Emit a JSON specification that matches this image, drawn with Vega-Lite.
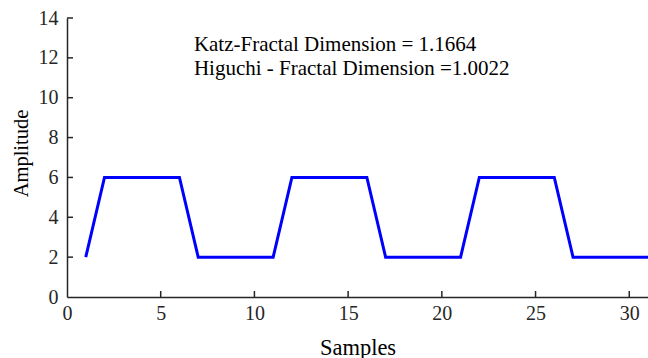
{
  "$schema": "https://vega.github.io/schema/vega-lite/v6.json",
  "width": 581,
  "height": 279,
  "autosize": {"type": "none"},
  "padding": {"left": 67, "top": 18, "right": 0, "bottom": 61},
  "background": "white",
  "config": {
    "view": {"stroke": null},
    "font": "Liberation Serif",
    "axis": {
      "domainColor": "#262626",
      "domainWidth": 1.5,
      "ticks": false,
      "labelColor": "#262626",
      "labelFont": "Liberation Serif",
      "labelFontSize": 20,
      "titleFont": "Liberation Serif",
      "titleFontWeight": "normal",
      "titleColor": "#000000",
      "titleBaseline": "alphabetic",
      "grid": false
    }
  },
  "layer": [
    {
      "data": {
        "values": [
          {"x": 1, "y": 2}, {"x": 2, "y": 6}, {"x": 3, "y": 6}, {"x": 4, "y": 6}, {"x": 5, "y": 6}, {"x": 6, "y": 6},
          {"x": 7, "y": 2}, {"x": 8, "y": 2}, {"x": 9, "y": 2}, {"x": 10, "y": 2}, {"x": 11, "y": 2},
          {"x": 12, "y": 6}, {"x": 13, "y": 6}, {"x": 14, "y": 6}, {"x": 15, "y": 6}, {"x": 16, "y": 6},
          {"x": 17, "y": 2}, {"x": 18, "y": 2}, {"x": 19, "y": 2}, {"x": 20, "y": 2}, {"x": 21, "y": 2},
          {"x": 22, "y": 6}, {"x": 23, "y": 6}, {"x": 24, "y": 6}, {"x": 25, "y": 6}, {"x": 26, "y": 6},
          {"x": 27, "y": 2}, {"x": 28, "y": 2}, {"x": 29, "y": 2}, {"x": 30, "y": 2}, {"x": 31, "y": 2}
        ]
      },
      "mark": {"type": "line", "color": "#0000FF", "strokeWidth": 3, "clip": true},
      "encoding": {
        "x": {
          "field": "x", "type": "quantitative",
          "scale": {"domain": [0, 31], "nice": false, "zero": false},
          "axis": {"title": "Samples", "titleFontSize": 22.5, "labelFont": "Liberation Serif", "values": [0, 5, 10, 15, 20, 25, 30], "labelOverlap": false, "labelFlush": false, "labelPadding": 6, "titleY": 57}
        },
        "y": {
          "field": "y", "type": "quantitative",
          "scale": {"domain": [0, 14], "nice": false},
          "axis": {"title": "Amplitude", "titleFontSize": 20.5, "labelFont": "Liberation Serif", "values": [0, 2, 4, 6, 8, 10, 12, 14], "labelOverlap": false, "labelFlush": false, "labelPadding": 9, "titleX": -40, "titleY": 135}
        }
      }
    },
    {
      "data": {
        "values": [
          {"tx": 5, "ty": 0, "ty2": 0.3}, {"tx": 10, "ty": 0, "ty2": 0.3}, {"tx": 15, "ty": 0, "ty2": 0.3},
          {"tx": 20, "ty": 0, "ty2": 0.3}, {"tx": 25, "ty": 0, "ty2": 0.3}, {"tx": 30, "ty": 0, "ty2": 0.3}
        ]
      },
      "mark": {"type": "rule", "color": "#262626", "strokeWidth": 1.5},
      "encoding": {
        "x": {
          "field": "tx", "type": "quantitative",
          "scale": {"domain": [0, 31], "nice": false, "zero": false},
          "axis": {"title": "Samples", "titleFontSize": 22.5, "labelFont": "Liberation Serif", "values": [0, 5, 10, 15, 20, 25, 30], "labelOverlap": false, "labelFlush": false, "labelPadding": 6, "titleY": 57}
        },
        "y": {
          "field": "ty", "type": "quantitative",
          "scale": {"domain": [0, 14], "nice": false},
          "axis": {"title": "Amplitude", "titleFontSize": 20.5, "labelFont": "Liberation Serif", "values": [0, 2, 4, 6, 8, 10, 12, 14], "labelOverlap": false, "labelFlush": false, "labelPadding": 9, "titleX": -40, "titleY": 135}
        },
        "y2": {"field": "ty2"}
      }
    },
    {
      "data": {
        "values": [
          {"tx": 0, "tx2": 0.32, "ty": 2}, {"tx": 0, "tx2": 0.32, "ty": 4}, {"tx": 0, "tx2": 0.32, "ty": 6},
          {"tx": 0, "tx2": 0.32, "ty": 8}, {"tx": 0, "tx2": 0.32, "ty": 10}, {"tx": 0, "tx2": 0.32, "ty": 12},
          {"tx": 0, "tx2": 0.32, "ty": 14}
        ]
      },
      "mark": {"type": "rule", "color": "#262626", "strokeWidth": 1.5},
      "encoding": {
        "x": {
          "field": "tx", "type": "quantitative",
          "scale": {"domain": [0, 31], "nice": false, "zero": false},
          "axis": {"title": "Samples", "titleFontSize": 22.5, "labelFont": "Liberation Serif", "values": [0, 5, 10, 15, 20, 25, 30], "labelOverlap": false, "labelFlush": false, "labelPadding": 6, "titleY": 57}
        },
        "x2": {"field": "tx2"},
        "y": {
          "field": "ty", "type": "quantitative",
          "scale": {"domain": [0, 14], "nice": false},
          "axis": {"title": "Amplitude", "titleFontSize": 20.5, "labelFont": "Liberation Serif", "values": [0, 2, 4, 6, 8, 10, 12, 14], "labelOverlap": false, "labelFlush": false, "labelPadding": 9, "titleX": -40, "titleY": 135}
        }
      }
    },
    {
      "data": {
        "values": [
          {"tx": 6.77, "ty": 12.33, "label": "Katz-Fractal Dimension = 1.1664"},
          {"tx": 6.77, "ty": 11.16, "label": "Higuchi - Fractal Dimension =1.0022"}
        ]
      },
      "mark": {"type": "text", "align": "left", "baseline": "alphabetic", "fontSize": 21, "font": "Liberation Serif", "color": "#000000"},
      "encoding": {
        "x": {
          "field": "tx", "type": "quantitative",
          "scale": {"domain": [0, 31], "nice": false, "zero": false},
          "axis": {"title": "Samples", "titleFontSize": 22.5, "labelFont": "Liberation Serif", "values": [0, 5, 10, 15, 20, 25, 30], "labelOverlap": false, "labelFlush": false, "labelPadding": 6, "titleY": 57}
        },
        "y": {
          "field": "ty", "type": "quantitative",
          "scale": {"domain": [0, 14], "nice": false},
          "axis": {"title": "Amplitude", "titleFontSize": 20.5, "labelFont": "Liberation Serif", "values": [0, 2, 4, 6, 8, 10, 12, 14], "labelOverlap": false, "labelFlush": false, "labelPadding": 9, "titleX": -40, "titleY": 135}
        },
        "text": {"field": "label"}
      }
    }
  ]
}
